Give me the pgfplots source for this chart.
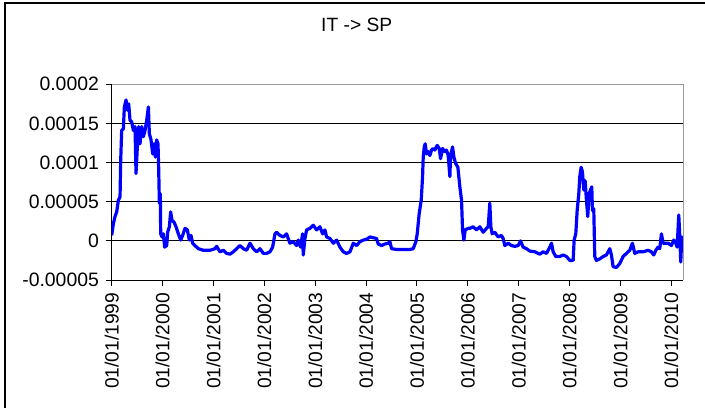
\documentclass[border=0pt]{standalone}
\usepackage{pgfplots}
\pgfplotsset{compat=1.18}
\usepackage{fontspec}
\setmainfont{Liberation Sans}

\begin{document}
\begin{tikzpicture}
\fontsize{9.6pt}{11.5pt}\selectfont
% picture frame: 352.5pt x 203.5pt, axis box at (0,0)
\useasboundingbox (-55.85pt,-63.5pt) rectangle (296.65pt,140pt);
\draw[black, line width=0.9pt] (-53.35pt,-64pt) -- (-53.35pt,138.5pt) -- (297pt,138.5pt);
\node[font=\fontsize{9.6pt}{11.5pt}\selectfont] at (122.5pt,127.6pt) {IT -> SP};

\begin{axis}[
    scale only axis,
    width=285.8pt,
    height=97.85pt,
    xmin=1999, xmax=2010.235,
    ymin=-5, ymax=20,
    axis x line*=bottom,
    axis y line*=left,
    axis line style={black, line width=0.5pt},
    xtick={1999,2000,...,2010},
    xticklabels={01/01/1999,01/01/2000,01/01/2001,01/01/2002,01/01/2003,01/01/2004,
                 01/01/2005,01/01/2006,01/01/2007,01/01/2008,01/01/2009,01/01/2010},
    ytick={-5,0,5,10,15,20},
    yticklabels={-0.00005,0,0.00005,0.0001,0.00015,0.0002},
    x tick label style={rotate=90, anchor=east, font=\fontsize{9.6pt}{11.5pt}\selectfont},
    y tick label style={font=\fontsize{9.7pt}{11.5pt}\selectfont},
    tick align=outside,
    major tick length=3pt,
    tick style={black, line width=0.5pt},
    ymajorgrids,
    grid style={black, line width=0.5pt},
    clip=true,
    after end axis/.code={
        \draw[gray!80, line width=0.6pt] (rel axis cs:0,1) -- (rel axis cs:1,1) -- (rel axis cs:1,0);
    },
]
\addplot[blue, line width=1.6pt, line join=round] coordinates {
(1999.000,0.7) (1999.033,2.2) (1999.065,3.1) (1999.098,3.7) (1999.131,5.2) (1999.164,5.6)
(1999.177,10.3) (1999.196,14.1) (1999.229,14.3) (1999.249,17.1) (1999.282,18.0) (1999.308,16.7)
(1999.334,17.5) (1999.360,15.4) (1999.393,15.2) (1999.426,14.1) (1999.458,14.6) (1999.478,8.6)
(1999.504,12.0) (1999.530,14.6) (1999.557,12.4) (1999.589,14.6) (1999.622,13.3) (1999.655,14.1)
(1999.688,15.4) (1999.721,17.1) (1999.740,13.7) (1999.773,12.9) (1999.806,11.1) (1999.832,12.4)
(1999.858,10.7) (1999.884,12.9) (1999.910,12.4) (1999.923,9.4) (1999.937,4.8) (1999.956,6.0)
(1999.963,0.9) (1999.989,0.5) (2000.015,0.9) (2000.041,-0.8) (2000.081,-0.6) (2000.100,1.1)
(2000.133,1.8) (2000.159,3.7) (2000.185,2.6) (2000.225,2.4) (2000.264,1.8) (2000.310,0.9)
(2000.356,0.1) (2000.395,0.7) (2000.441,1.6) (2000.487,1.4) (2000.526,0.1) (2000.559,0.7)
(2000.591,-0.3) (2000.637,-0.6) (2000.703,-1.0) (2000.801,-1.2) (2000.932,-1.2) (2001.030,-1.0)
(2001.063,-0.7) (2001.128,-1.4) (2001.194,-1.2) (2001.259,-1.6) (2001.325,-1.7) (2001.390,-1.4)
(2001.456,-1.0) (2001.521,-0.6) (2001.587,-1.0) (2001.652,-1.2) (2001.718,-0.3) (2001.783,-1.0)
(2001.849,-1.4) (2001.914,-1.0) (2001.980,-1.6) (2002.045,-1.6) (2002.111,-1.4) (2002.163,-0.8)
(2002.209,0.9) (2002.242,1.1)
(2002.306,0.7) (2002.372,0.5) (2002.437,0.9) (2002.503,-0.3) (2002.569,-0.1) (2002.634,-0.6)
(2002.667,0.1) (2002.713,-0.8) (2002.752,0.9) (2002.765,-1.8) (2002.798,0.3) (2002.831,1.4)
(2002.896,1.6) (2002.962,2.0) (2003.027,1.4) (2003.093,1.8) (2003.145,0.9) (2003.191,1.4)
(2003.224,0.5) (2003.290,0.3) (2003.355,-0.3) (2003.421,0.1) (2003.486,-0.8) (2003.552,-1.4)
(2003.617,-1.6) (2003.683,-1.4) (2003.748,-0.3) (2003.814,-0.6) (2003.879,-0.1) (2003.945,0.1)
(2004.010,0.2) (2004.076,0.5) (2004.141,0.4) (2004.206,0.3) (2004.239,-0.4) (2004.305,-0.6)
(2004.370,-0.4) (2004.435,-0.3) (2004.468,-0.1) (2004.501,-1.0) (2004.599,-1.1) (2004.730,-1.1)
(2004.861,-1.1) (2004.926,-1.0) (2004.979,-0.1) (2005.005,0.9) (2005.044,3.5) (2005.084,5.2)
(2005.110,8.2) (2005.123,10.7) (2005.143,12.0) (2005.162,12.4) (2005.189,11.1) (2005.221,11.4)
(2005.254,10.9) (2005.287,11.6) (2005.320,11.8) (2005.352,11.6) (2005.398,12.2) (2005.438,11.8)
(2005.464,10.5) (2005.503,11.8) (2005.549,11.4) (2005.581,11.6) (2005.614,10.9) (2005.647,8.2)
(2005.660,10.9) (2005.700,12.0) (2005.726,10.7) (2005.759,9.9) (2005.804,9.4) (2005.843,6.9)
(2005.876,5.2) (2005.896,1.4) (2005.922,0.1) (2005.948,1.4) (2006.007,1.6)
(2006.039,1.6) (2006.105,1.8) (2006.170,1.4) (2006.236,1.8) (2006.301,1.1) (2006.367,1.6)
(2006.400,1.8) (2006.432,4.8) (2006.452,1.8) (2006.478,0.9) (2006.530,1.1) (2006.596,0.5)
(2006.661,0.7) (2006.694,0.3) (2006.727,-0.6) (2006.792,-0.3) (2006.858,-0.6) (2006.923,-0.7)
(2006.989,-0.6) (2007.035,0.0) (2007.087,-0.8) (2007.153,-1.0) (2007.218,-1.3) (2007.317,-1.4)
(2007.415,-1.7) (2007.480,-1.4) (2007.546,-1.6) (2007.611,-0.8) (2007.644,-0.3) (2007.677,-1.4)
(2007.729,-2.0) (2007.808,-2.0) (2007.873,-1.8) (2007.939,-2.0) (2008.004,-2.5) (2008.070,-2.5)
(2008.089,0.1) (2008.122,0.9) (2008.149,3.9) (2008.181,6.0) (2008.200,8.2) (2008.227,9.4)
(2008.253,8.8) (2008.279,6.5) (2008.305,7.7) (2008.331,5.2) (2008.357,3.1) (2008.383,6.0)
(2008.410,6.5) (2008.436,6.9) (2008.449,3.9) (2008.475,4.1) (2008.495,-2.0) (2008.528,-2.5)
(2008.593,-2.3) (2008.659,-2.0) (2008.724,-1.8) (2008.790,-1.0) (2008.822,-1.8) (2008.855,-3.3)
(2008.921,-3.4) (2008.986,-2.9) (2009.052,-2.0) (2009.117,-1.6) (2009.183,-1.2) (2009.235,-0.3)
(2009.281,-1.6) (2009.347,-1.4) (2009.445,-1.4) (2009.543,-1.2) (2009.608,-1.4) (2009.654,-1.8)
(2009.694,-1.2) (2009.739,-0.8) (2009.772,-1.0) (2009.805,0.9) (2009.838,-0.3) (2009.871,-0.3)
(2009.936,-0.3) (2010.001,-0.6) (2010.047,0.1) (2010.087,-0.3) (2010.113,-0.8) (2010.146,3.3)
(2010.166,0.5) (2010.185,-2.7) (2010.205,0.5) (2010.231,0.2)
};
\end{axis}
\end{tikzpicture}
\end{document}
